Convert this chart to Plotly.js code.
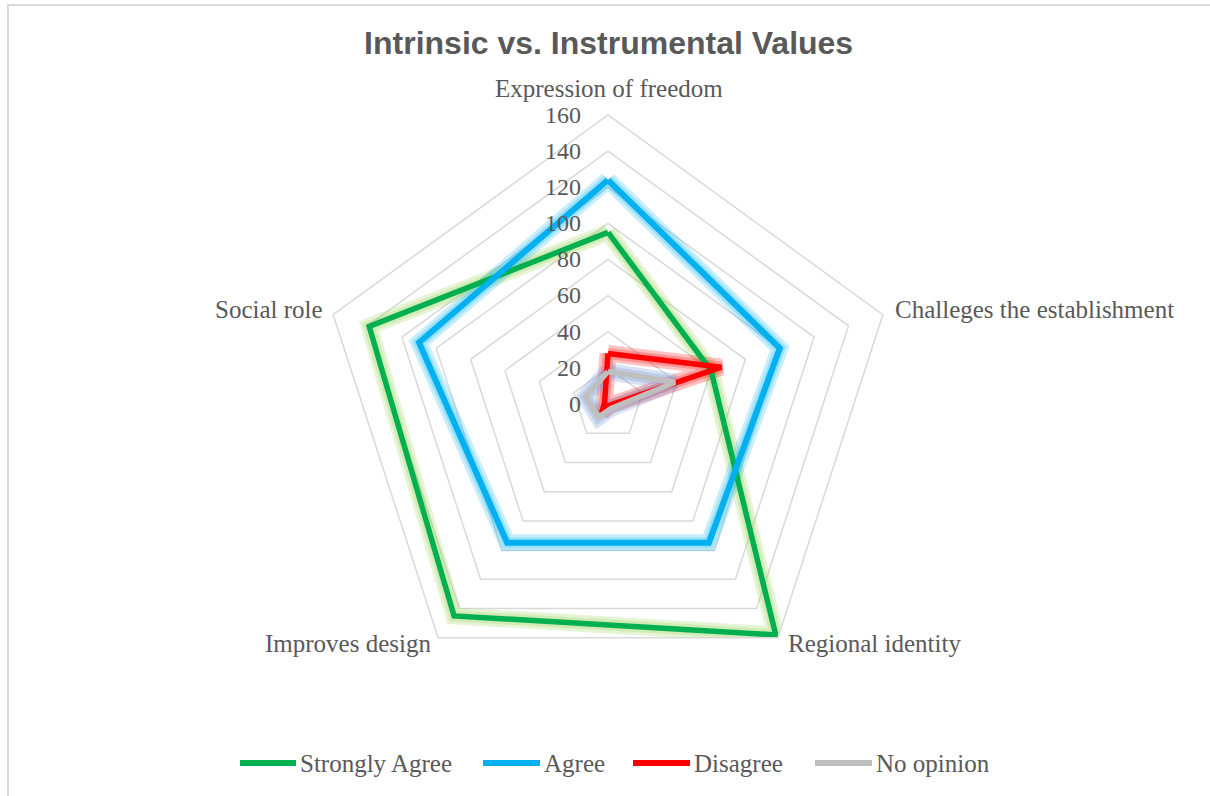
<!DOCTYPE html>
<html>
<head>
<meta charset="utf-8">
<script src="https://cdn.plot.ly/plotly-3.0.1.min.js"></script>
<style>
  html, body { margin: 0; padding: 0; background: #fff; overflow: hidden; }
  #frame { position: absolute; left: 7px; top: 4px; width: 1400px; height: 1000px; border: 2px solid #d9d9d9; box-sizing: border-box; pointer-events: none; z-index: 5; }
  #chart { position: absolute; left: 0; top: 0; width: 1210px; height: 796px; }
</style>
</head>
<body>
<div id="chart"></div>
<div id="frame"></div>
<script>
const categories = ["Expression of freedom", "Challeges the establishment", "Regional identity", "Improves design", "Social role"];
const seriesNames = ["Strongly Agree", "Agree", "Disagree", "No opinion"];
const stronglyAgree = [95, 60, 158, 145, 139];
const agree = [124, 100, 95, 95, 110];
const disagree = [28, 66, 1, 6, 2];
const noOpinion = [18, 39, 3, 9, 13];
const tickValues = [0, 20, 40, 60, 80, 100, 120, 140, 160];

const seriesValues = [stronglyAgree, agree, disagree, noOpinion];
const lineColors = ["#00b050", "#00b0f0", "#ff0000", "#bfbfbf"];
const glowColors = ["rgba(146,208,80,0.24)", "rgba(0,176,240,0.22)", "rgba(255,0,0,0.24)", "rgba(120,150,210,0.28)"];
const lineWidths = [5.5, 6, 5.5, 5.5];

const W = 1210, H = 796;
const CX = 608, CY = 404, R = 289;

const close = a => a.concat([a[0]]);
const theta = close(categories);

const traces = [];
seriesValues.forEach((vals, i) => {
  [17, 11].forEach(w => {
    traces.push({
      type: "scatterpolar", mode: "lines", r: close(vals), theta: theta,
      line: { color: glowColors[i], width: w },
      showlegend: false, hoverinfo: "skip"
    });
  });
});
seriesValues.forEach((vals, i) => {
  traces.push({
    type: "scatterpolar", mode: "lines", r: close(vals), theta: theta,
    name: seriesNames[i],
    line: { color: lineColors[i], width: lineWidths[i] },
    showlegend: false
  });
});

// category labels placed around the pentagon vertices
const labelOffsets = [[1, -27, "center"], [10, -5, "left"], [8, 6, "left"], [-5, 6, "right"], [-8, -5, "right"]];
const annotations = categories.map((c, i) => {
  const a = i * 72 * Math.PI / 180;
  const vx = CX + R * Math.sin(a), vy = CY - R * Math.cos(a);
  const o = labelOffsets[i];
  return {
    xref: "paper", yref: "paper", x: (vx + o[0]) / W, y: 1 - (vy + o[1]) / H,
    xanchor: o[2], yanchor: "middle", showarrow: false, text: c,
    font: { family: "Liberation Serif, serif", size: 25, color: "#595959" }
  };
});

// custom legend
const legendLayout = [[240, 296], [483, 540], [633, 690], [815, 872]];
const LY = 763;
const shapes = [];
seriesNames.forEach((n, i) => {
  const [x0, x1] = legendLayout[i];
  shapes.push({ type: "line", xref: "paper", yref: "paper", x0: x0 / W, x1: x1 / W, y0: 1 - LY / H, y1: 1 - LY / H,
    line: { color: lineColors[i], width: 6 } });
  annotations.push({ xref: "paper", yref: "paper", x: (x1 + 2) / W, y: 1 - LY / H, xanchor: "left", yanchor: "middle",
    showarrow: false, text: n, font: { family: "Liberation Serif, serif", size: 25, color: "#595959" } });
});

const pad = "\u00a0\u00a0\u00a0\u2009";

const layout = {
  width: W, height: H,
  margin: { l: 0, r: 0, t: 0, b: 0 },
  paper_bgcolor: "#ffffff",
  plot_bgcolor: "#ffffff",
  font: { family: "Liberation Serif, serif", color: "#595959" },
  title: {
    text: "<b>Intrinsic vs. Instrumental Values</b>",
    font: { family: "Liberation Sans, Arial, sans-serif", size: 32, color: "#595959" },
    x: 0.503, xanchor: "center", y: 0.946, yanchor: "middle"
  },
  polar: {
    domain: { x: [(CX - R) / W, (CX + R) / W], y: [1 - (CY + R) / H, 1 - (CY - R) / H] },
    bgcolor: "#ffffff",
    gridshape: "linear",
    angularaxis: {
      type: "category",
      rotation: 90, direction: "clockwise",
      showgrid: false, showline: true, linecolor: "#d9d9d9", linewidth: 1.5,
      ticks: "", showticklabels: false
    },
    radialaxis: {
      range: [0, 160], tickvals: tickValues, ticktext: tickValues.map(v => String(v) + pad),
      angle: 90, tickangle: 90, side: "counterclockwise",
      showline: false, ticks: "",
      gridcolor: "#d9d9d9", gridwidth: 1.5,
      tickfont: { family: "Liberation Serif, serif", size: 24, color: "#595959" }
    }
  },
  showlegend: false,
  annotations: annotations,
  shapes: shapes
};

Plotly.newPlot("chart", traces, layout, { staticPlot: true, displayModeBar: false });
</script>
</body>
</html>
